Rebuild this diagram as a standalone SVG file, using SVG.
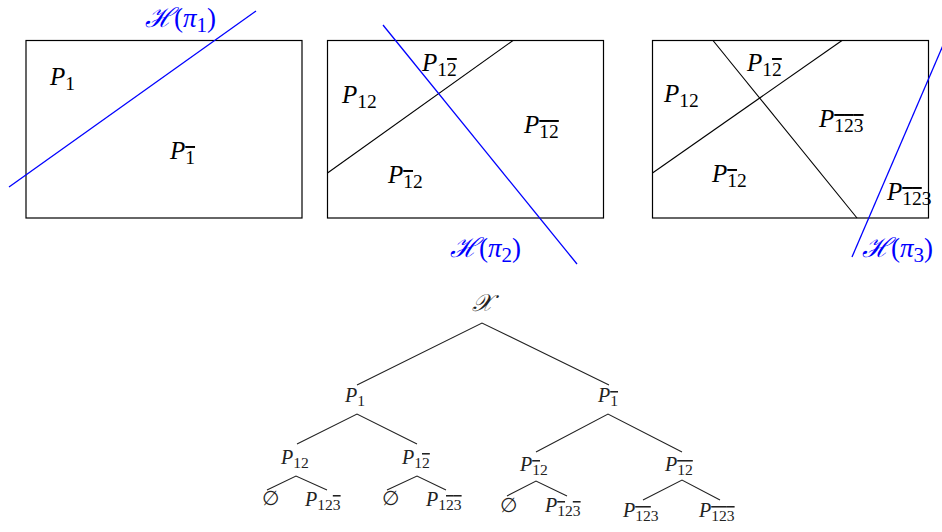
<svg xmlns="http://www.w3.org/2000/svg" width="942" height="532" viewBox="0 0 942 532">
<style>
.frame{fill:none;stroke:#000;stroke-width:1.2}
.cut{stroke:#000;stroke-width:1.1;fill:none}
.hyp{stroke:#0000ff;stroke-width:1.3;fill:none}
.big{font-family:"Liberation Serif","DejaVu Serif",serif;font-size:25px;fill:#000}
.hl{font-family:"Liberation Serif","DejaVu Serif",serif;font-size:27px;fill:#0000ff}
.tr{font-family:"Liberation Serif","DejaVu Serif",serif;font-size:20px;fill:#222}
.it{font-style:italic}
.sb{font-size:78%;font-style:normal}
.o{text-decoration:overline}
.edge{stroke:#222;stroke-width:1.1;fill:none}
</style>
<rect width="942" height="532" fill="#fff"/>
<g id="panel1">
<rect class="frame" x="26" y="40.5" width="276" height="177.5"/>
<line class="hyp" x1="9" y1="187" x2="256" y2="11"/>
<text class="hl" x="145" y="27"><tspan class="it">ℋ</tspan>(<tspan class="it">π</tspan><tspan class="sb" dy="5">1</tspan><tspan dy="-5">)</tspan></text>
<text class="big" x="50" y="85"><tspan class="it">P</tspan><tspan class="sb" dy="5">1</tspan></text>
<text class="big" x="170" y="159"><tspan class="it">P</tspan><tspan class="sb" dy="5"><tspan class="o">1</tspan></tspan></text>
</g>
<g id="panel2">
<rect class="frame" x="327.5" y="40.5" width="276" height="177.5"/>
<line class="cut" x1="327.5" y1="173" x2="513" y2="40.5"/>
<line class="hyp" x1="383" y1="25" x2="577" y2="264"/>
<text class="hl" x="450" y="257"><tspan class="it">ℋ</tspan>(<tspan class="it">π</tspan><tspan class="sb" dy="5">2</tspan><tspan dy="-5">)</tspan></text>
<text class="big" x="422" y="71"><tspan class="it">P</tspan><tspan class="sb" dy="5">1<tspan class="o">2</tspan></tspan></text>
<text class="big" x="342" y="103"><tspan class="it">P</tspan><tspan class="sb" dy="5">12</tspan></text>
<text class="big" x="524" y="133"><tspan class="it">P</tspan><tspan class="sb" dy="5"><tspan class="o">1</tspan><tspan class="o">2</tspan></tspan></text>
<text class="big" x="388" y="183"><tspan class="it">P</tspan><tspan class="sb" dy="5"><tspan class="o">1</tspan>2</tspan></text>
</g>
<g id="panel3">
<rect class="frame" x="652.5" y="40.5" width="276" height="177.5"/>
<line class="cut" x1="652.5" y1="173" x2="842" y2="40.5"/>
<line class="cut" x1="713" y1="40.5" x2="857" y2="218"/>
<line class="hyp" x1="944" y1="43" x2="852" y2="257"/>
<text class="hl" x="862" y="257"><tspan class="it">ℋ</tspan>(<tspan class="it">π</tspan><tspan class="sb" dy="5">3</tspan><tspan dy="-5">)</tspan></text>
<text class="big" x="747" y="71"><tspan class="it">P</tspan><tspan class="sb" dy="5">1<tspan class="o">2</tspan></tspan></text>
<text class="big" x="664" y="102"><tspan class="it">P</tspan><tspan class="sb" dy="5">12</tspan></text>
<text class="big" x="819" y="127"><tspan class="it">P</tspan><tspan class="sb" dy="5"><tspan class="o">1</tspan><tspan class="o">2</tspan><tspan class="o">3</tspan></tspan></text>
<text class="big" x="712" y="182"><tspan class="it">P</tspan><tspan class="sb" dy="5"><tspan class="o">1</tspan>2</tspan></text>
<text class="big" x="887" y="200"><tspan class="it">P</tspan><tspan class="sb" dy="5"><tspan class="o">1</tspan><tspan class="o">2</tspan>3</tspan></text>
</g>
<g id="connectors">
<polyline class="edge" points="357,385 482,323 609,385"/>
<polyline class="edge" points="297,444 357,414 417,444"/>
<polyline class="edge" points="536,452 608,414 682,452"/>
<polyline class="edge" points="267,490 296,476 327,490"/>
<polyline class="edge" points="387,490 417,476 446,490"/>
<polyline class="edge" points="507,496 536,481 567,496"/>
<polyline class="edge" points="643,500 682,480 720,500"/>
</g>
<g id="n-root"><text class="tr it" x="482" y="311" text-anchor="middle" style="font-size:24px">𝒳</text></g>
<g id="n-P1"><text class="tr" x="345" y="402"><tspan class="it">P</tspan><tspan class="sb" dy="4">1</tspan></text></g>
<g id="n-P1b"><text class="tr" x="598" y="402"><tspan class="it">P</tspan><tspan class="sb" dy="4"><tspan class="o">1</tspan></tspan></text></g>
<g id="n-P12"><text class="tr" x="281" y="464"><tspan class="it">P</tspan><tspan class="sb" dy="4">12</tspan></text></g>
<g id="n-P12b"><text class="tr" x="402" y="464"><tspan class="it">P</tspan><tspan class="sb" dy="4">1<tspan class="o">2</tspan></tspan></text></g>
<g id="n-e1"><text class="tr" x="262" y="505">∅</text></g>
<g id="n-P123b"><text class="tr" x="305" y="506"><tspan class="it">P</tspan><tspan class="sb" dy="4">12<tspan class="o">3</tspan></tspan></text></g>
<g id="n-e2"><text class="tr" x="382" y="505">∅</text></g>
<g id="n-P12b3b"><text class="tr" x="426" y="506"><tspan class="it">P</tspan><tspan class="sb" dy="4">1<tspan class="o">2</tspan><tspan class="o">3</tspan></tspan></text></g>
<g id="n-P1b2"><text class="tr" x="520" y="471"><tspan class="it">P</tspan><tspan class="sb" dy="4"><tspan class="o">1</tspan>2</tspan></text></g>
<g id="n-P1b2b"><text class="tr" x="665" y="471"><tspan class="it">P</tspan><tspan class="sb" dy="4"><tspan class="o">1</tspan><tspan class="o">2</tspan></tspan></text></g>
<g id="n-e3"><text class="tr" x="500" y="512">∅</text></g>
<g id="n-P1b23b"><text class="tr" x="545" y="512"><tspan class="it">P</tspan><tspan class="sb" dy="4"><tspan class="o">1</tspan>2<tspan class="o">3</tspan></tspan></text></g>
<g id="n-P1b2b3"><text class="tr" x="623" y="517"><tspan class="it">P</tspan><tspan class="sb" dy="4"><tspan class="o">1</tspan><tspan class="o">2</tspan>3</tspan></text></g>
<g id="n-P1b2b3b"><text class="tr" x="699" y="517"><tspan class="it">P</tspan><tspan class="sb" dy="4"><tspan class="o">1</tspan><tspan class="o">2</tspan><tspan class="o">3</tspan></tspan></text></g>
</svg>
